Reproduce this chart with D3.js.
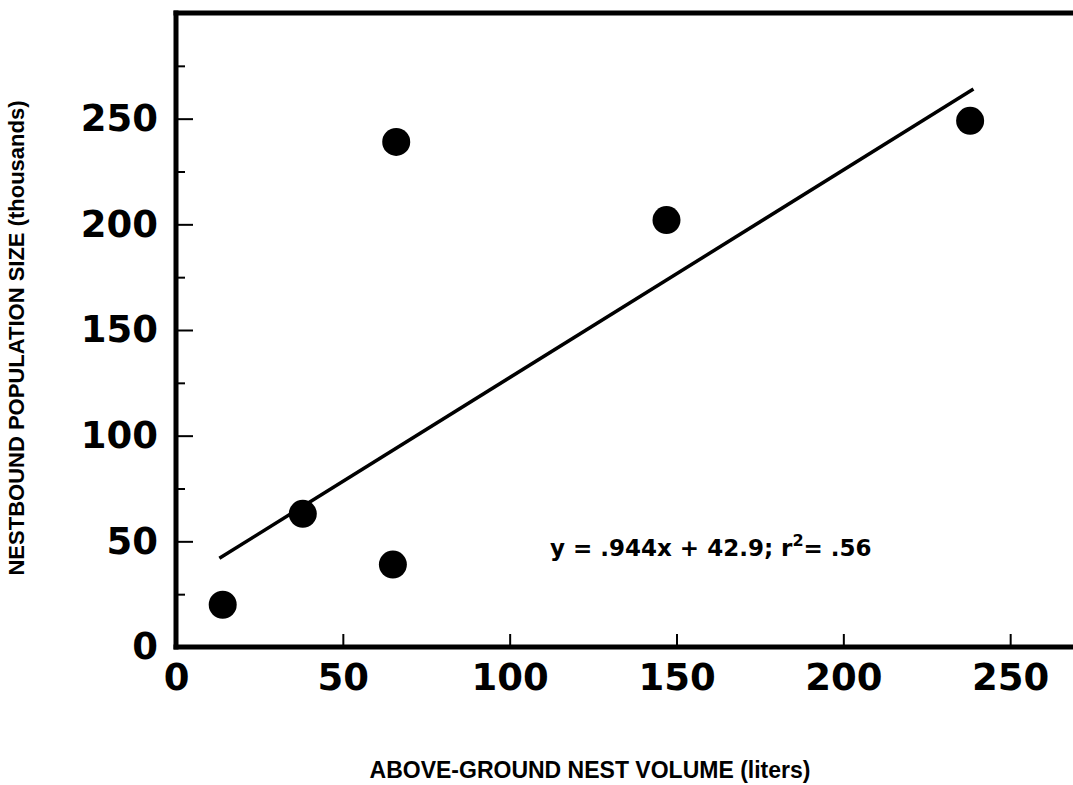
<!DOCTYPE html>
<html>
<head>
<meta charset="utf-8">
<script src="https://cdn.jsdelivr.net/npm/d3@7"></script>
<style>
  body { margin: 0; background: #fff; }
  svg { display: block; }
  .num-label { font-family: 'DejaVu Sans', sans-serif; font-weight: bold; }
  .title-label { font-family: 'Liberation Sans', Arial, sans-serif; font-weight: bold; }
</style>
</head>
<body>
<div id="chart"></div>
<script>
// nest data
const nestVolume = [14, 38, 66, 65, 147, 238];       // liters
const nestPopulation = [20, 63, 239, 39, 202, 249];  // thousands

// fitted line as drawn in the figure (end points)
const fitVolume = [13, 239];
const fitPopulation = [42, 264];

const xTicks = [0, 50, 100, 150, 200, 250];
const yTicks = [0, 50, 100, 150, 200, 250];
const yMinorTicks = [25, 75, 125, 175, 225, 275];

const equationText = 'y = .944x + 42.9; r';

const width = 1073;
const height = 785;

const x = d3.scaleLinear().domain([0, 300]).range([176, 1177]);
const y = d3.scaleLinear().domain([0, 300]).range([647, 13]);

const svg = d3.select('#chart')
  .append('svg')
  .attr('width', width)
  .attr('height', height);

// minor y ticks (short, inward)
svg.append('g')
  .attr('transform', `translate(${x(0)},0)`)
  .call(d3.axisLeft(y).tickValues(yMinorTicks).tickSize(-9).tickFormat(''))
  .call(g => g.select('.domain').remove())
  .call(g => g.selectAll('line').attr('stroke', '#000').attr('stroke-width', 2));

// major y ticks
svg.append('g')
  .attr('transform', `translate(${x(0)},0)`)
  .call(d3.axisLeft(y).tickValues(yTicks).tickSize(-17).tickPadding(18))
  .call(g => g.select('.domain').remove())
  .call(g => g.selectAll('line').attr('stroke', '#000').attr('stroke-width', 2))
  .call(g => g.selectAll('text')
    .attr('class', 'num-label')
    .attr('font-size', 37)
    .attr('fill', '#000'));

// x ticks (upward)
svg.append('g')
  .attr('transform', `translate(0,${y(0)})`)
  .call(d3.axisBottom(x).tickValues(xTicks).tickSize(-13).tickPadding(17))
  .call(g => g.select('.domain').remove())
  .call(g => g.selectAll('line').attr('stroke', '#000').attr('stroke-width', 2))
  .call(g => g.selectAll('text')
    .attr('class', 'num-label')
    .attr('font-size', 37)
    .attr('fill', '#000'));

// frame: left, bottom and top lines, open on the right
const frame = svg.append('g')
  .attr('stroke', '#000')
  .attr('stroke-width', 5)
  .attr('stroke-linecap', 'square');
frame.append('line')
  .attr('x1', x(0)).attr('x2', x(0))
  .attr('y1', y(300)).attr('y2', y(0));
frame.append('line')
  .attr('x1', x(0)).attr('x2', width)
  .attr('y1', y(0)).attr('y2', y(0));
frame.append('line')
  .attr('x1', x(0)).attr('x2', width)
  .attr('y1', y(300)).attr('y2', y(300));

// regression line
const fitData = fitVolume.map((v, i) => ({ v: v, p: fitPopulation[i] }));
const line = d3.line()
  .x(d => x(d.v))
  .y(d => y(d.p));
svg.append('path')
  .attr('d', line(fitData))
  .attr('fill', 'none')
  .attr('stroke', '#000')
  .attr('stroke-width', 3.5);

// points
const points = nestVolume.map((v, i) => ({ v: v, p: nestPopulation[i] }));
svg.append('g')
  .selectAll('circle')
  .data(points)
  .enter()
  .append('circle')
  .attr('cx', d => x(d.v))
  .attr('cy', d => y(d.p))
  .attr('r', 14)
  .attr('fill', '#000');

// equation
const eq = svg.append('text')
  .attr('class', 'num-label')
  .attr('x', 550)
  .attr('y', 556)
  .attr('font-size', 23)
  .text(equationText);
eq.append('tspan')
  .attr('font-size', 16)
  .attr('dy', -10)
  .text('2');
eq.append('tspan')
  .attr('dy', 10)
  .text('= .56');

// axis titles
svg.append('text')
  .attr('class', 'title-label')
  .attr('x', 590)
  .attr('y', 778)
  .attr('text-anchor', 'middle')
  .attr('font-size', 23)
  .text('ABOVE-GROUND NEST VOLUME (liters)');

svg.append('text')
  .attr('class', 'title-label')
  .attr('transform', 'translate(24,338) rotate(-90)')
  .attr('text-anchor', 'middle')
  .attr('font-size', 22)
  .text('NESTBOUND POPULATION SIZE (thousands)');
</script>
</body>
</html>
